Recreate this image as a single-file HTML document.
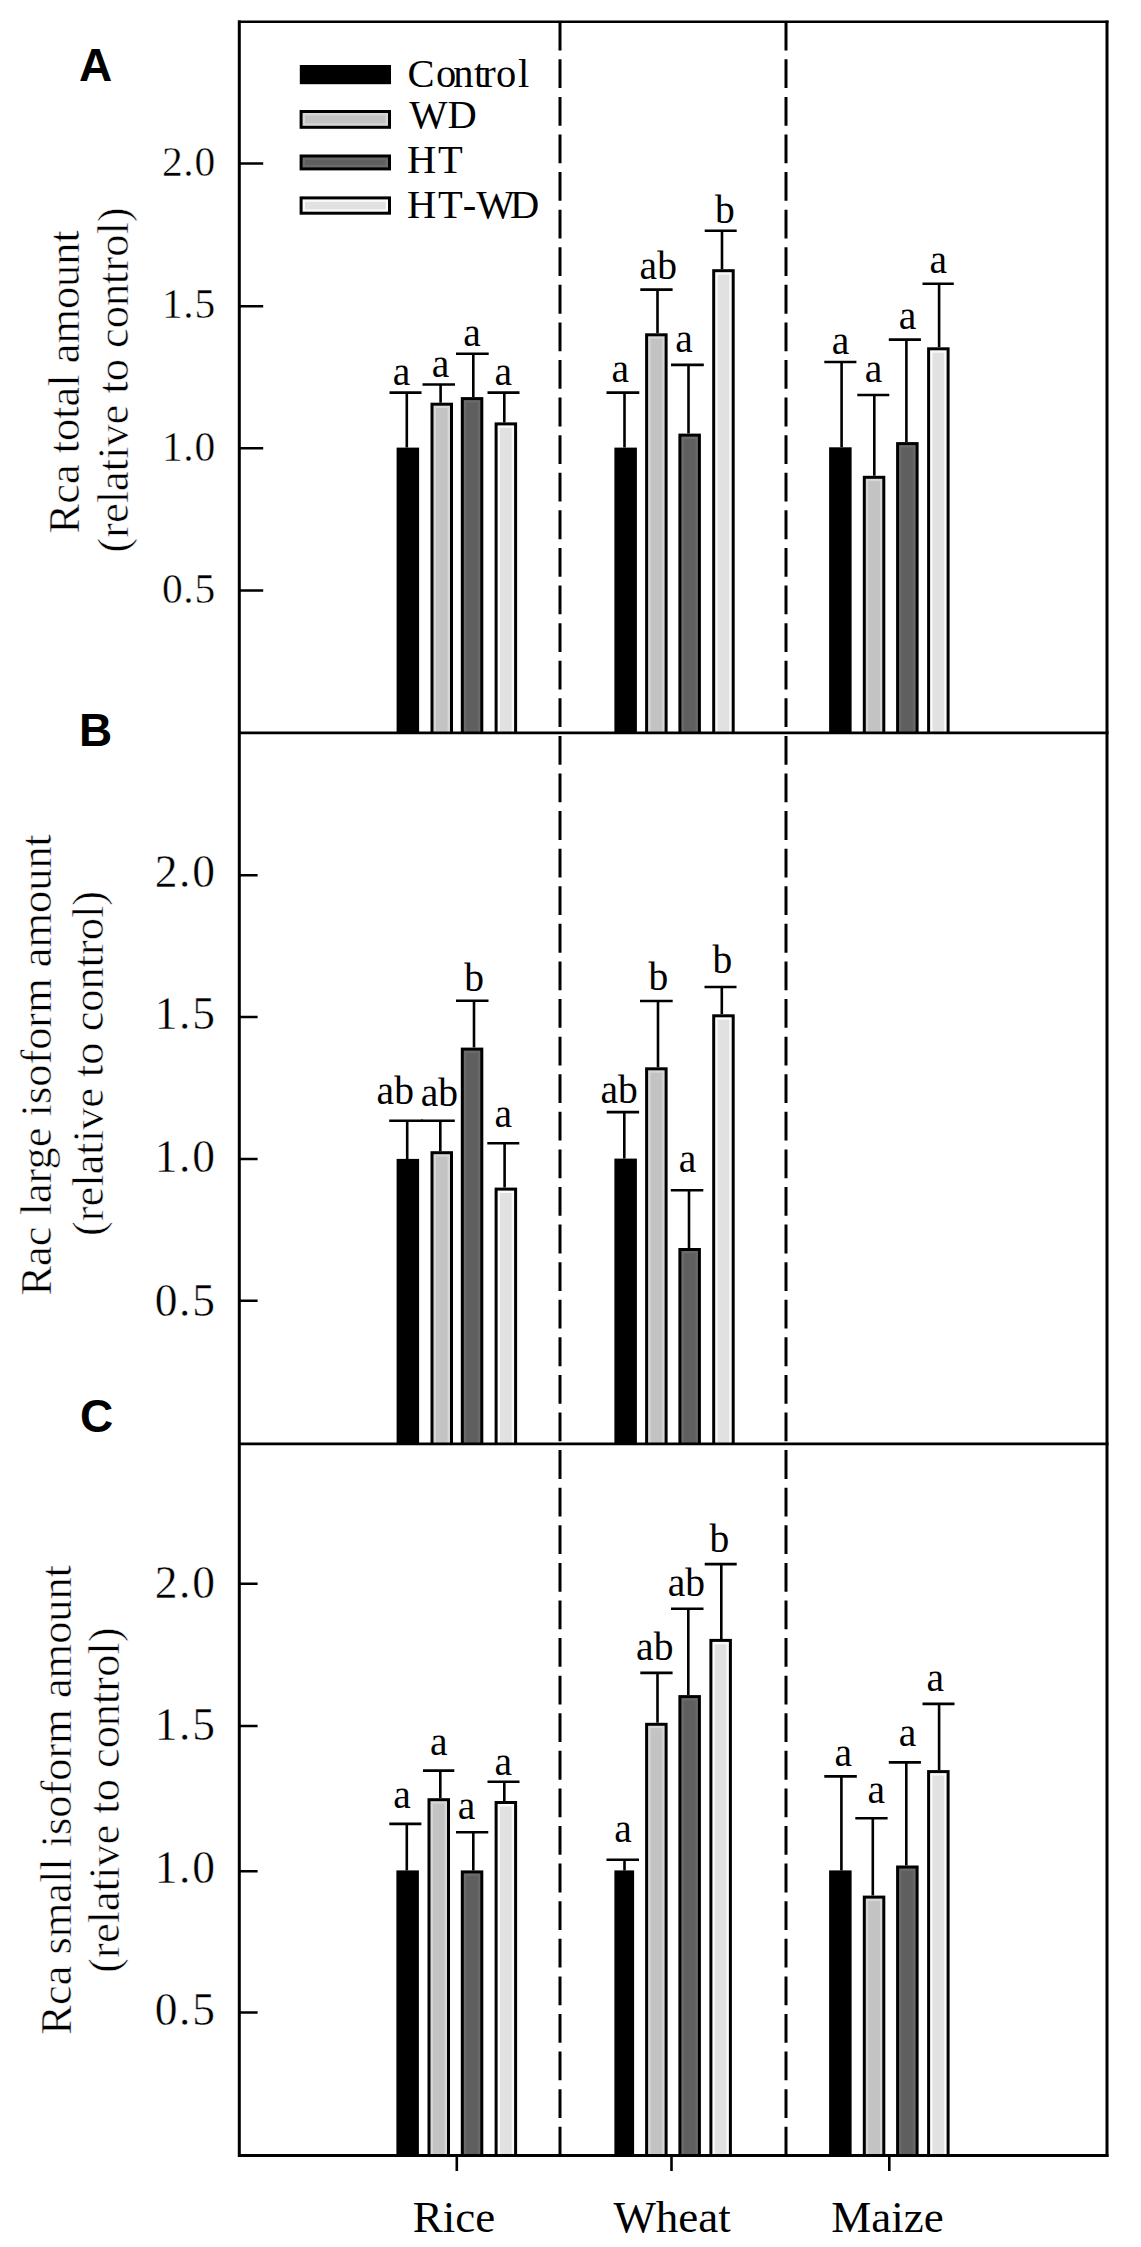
<!DOCTYPE html>
<html><head><meta charset="utf-8"><title>Rca amounts</title><style>
html,body{margin:0;padding:0;background:#fff;width:1141px;height:2247px;overflow:hidden}
svg{display:block}
.s{font-family:"Liberation Serif",serif;fill:#000}
.p{font-family:"Liberation Sans",sans-serif;font-weight:bold;fill:#000}
</style></head><body>
<svg width="1141" height="2247" viewBox="0 0 1141 2247">
<rect x="0" y="0" width="1141" height="2247" fill="#fff"/>
<g>
<rect x="396.6" y="447.6" width="22.5" height="285.4" fill="#000"/>
<rect x="430.5" y="402.7" width="22.5" height="330.3" fill="#000"/>
<rect x="433.5" y="405.7" width="16.5" height="327.3" fill="#d6d6d6"/>
<rect x="435.9" y="408.1" width="11.7" height="324.9" fill="#c3c3c3"/>
<rect x="460.8" y="397.1" width="22.5" height="335.9" fill="#000"/>
<rect x="463.8" y="400.1" width="16.5" height="332.9" fill="#6b6b6b"/>
<rect x="466.2" y="402.5" width="11.7" height="330.5" fill="#5f5f5f"/>
<rect x="494.6" y="422.4" width="22.5" height="310.6" fill="#000"/>
<rect x="497.6" y="425.4" width="16.5" height="307.6" fill="#fafafa"/>
<rect x="500" y="427.8" width="11.7" height="305.2" fill="#e1e1e1"/>
<rect x="614.4" y="447.6" width="22.5" height="285.4" fill="#000"/>
<rect x="645.1" y="333.3" width="22.5" height="399.7" fill="#000"/>
<rect x="648.1" y="336.3" width="16.5" height="396.7" fill="#d6d6d6"/>
<rect x="650.5" y="338.7" width="11.7" height="394.3" fill="#c3c3c3"/>
<rect x="678.4" y="433.6" width="22.5" height="299.4" fill="#000"/>
<rect x="681.4" y="436.6" width="16.5" height="296.4" fill="#6b6b6b"/>
<rect x="683.8" y="439" width="11.7" height="294" fill="#5f5f5f"/>
<rect x="712.2" y="269.2" width="22.5" height="463.8" fill="#000"/>
<rect x="715.2" y="272.2" width="16.5" height="460.8" fill="#fafafa"/>
<rect x="717.6" y="274.6" width="11.7" height="458.4" fill="#e1e1e1"/>
<rect x="829.1" y="447.3" width="22.5" height="285.7" fill="#000"/>
<rect x="862.8" y="475.8" width="22.5" height="257.2" fill="#000"/>
<rect x="865.8" y="478.8" width="16.5" height="254.2" fill="#d6d6d6"/>
<rect x="868.2" y="481.2" width="11.7" height="251.8" fill="#c3c3c3"/>
<rect x="896.1" y="442.1" width="22.5" height="290.9" fill="#000"/>
<rect x="899.1" y="445.1" width="16.5" height="287.9" fill="#6b6b6b"/>
<rect x="901.5" y="447.5" width="11.7" height="285.5" fill="#5f5f5f"/>
<rect x="927.1" y="347.3" width="22.5" height="385.7" fill="#000"/>
<rect x="930.1" y="350.3" width="16.5" height="382.7" fill="#fafafa"/>
<rect x="932.5" y="352.7" width="11.7" height="380.3" fill="#e1e1e1"/>
<rect x="396.6" y="1158.9" width="22.5" height="285.1" fill="#000"/>
<rect x="430.5" y="1151.2" width="22.5" height="292.8" fill="#000"/>
<rect x="433.5" y="1154.2" width="16.5" height="289.8" fill="#d6d6d6"/>
<rect x="435.9" y="1156.6" width="11.7" height="287.4" fill="#c3c3c3"/>
<rect x="460.8" y="1047.6" width="22.5" height="396.4" fill="#000"/>
<rect x="463.8" y="1050.6" width="16.5" height="393.4" fill="#6b6b6b"/>
<rect x="466.2" y="1053" width="11.7" height="391" fill="#5f5f5f"/>
<rect x="494.6" y="1187.6" width="22.5" height="256.4" fill="#000"/>
<rect x="497.6" y="1190.6" width="16.5" height="253.4" fill="#fafafa"/>
<rect x="500" y="1193" width="11.7" height="251" fill="#e1e1e1"/>
<rect x="614.4" y="1158.6" width="22.5" height="285.4" fill="#000"/>
<rect x="645.1" y="1067.3" width="22.5" height="376.7" fill="#000"/>
<rect x="648.1" y="1070.3" width="16.5" height="373.7" fill="#d6d6d6"/>
<rect x="650.5" y="1072.7" width="11.7" height="371.3" fill="#c3c3c3"/>
<rect x="678.4" y="1248" width="22.5" height="196" fill="#000"/>
<rect x="681.4" y="1251" width="16.5" height="193" fill="#6b6b6b"/>
<rect x="683.8" y="1253.4" width="11.7" height="190.6" fill="#5f5f5f"/>
<rect x="712.2" y="1014.3" width="22.5" height="429.7" fill="#000"/>
<rect x="715.2" y="1017.3" width="16.5" height="426.7" fill="#fafafa"/>
<rect x="717.6" y="1019.7" width="11.7" height="424.3" fill="#e1e1e1"/>
<rect x="396.4" y="1870.4" width="22.5" height="285.1" fill="#000"/>
<rect x="427.5" y="1798.2" width="22.5" height="357.3" fill="#000"/>
<rect x="430.5" y="1801.2" width="16.5" height="354.3" fill="#d6d6d6"/>
<rect x="432.9" y="1803.6" width="11.7" height="351.9" fill="#c3c3c3"/>
<rect x="460.8" y="1870.4" width="22.5" height="285.1" fill="#000"/>
<rect x="463.8" y="1873.4" width="16.5" height="282.1" fill="#6b6b6b"/>
<rect x="466.2" y="1875.8" width="11.7" height="279.7" fill="#5f5f5f"/>
<rect x="494.6" y="1801" width="22.5" height="354.5" fill="#000"/>
<rect x="497.6" y="1804" width="16.5" height="351.5" fill="#fafafa"/>
<rect x="500" y="1806.4" width="11.7" height="349.1" fill="#e1e1e1"/>
<rect x="614.4" y="1870.4" width="19.7" height="285.1" fill="#000"/>
<rect x="645.1" y="1722.8" width="22.5" height="432.7" fill="#000"/>
<rect x="648.1" y="1725.8" width="16.5" height="429.7" fill="#d6d6d6"/>
<rect x="650.5" y="1728.2" width="11.7" height="427.3" fill="#c3c3c3"/>
<rect x="678.4" y="1695.1" width="22.5" height="460.4" fill="#000"/>
<rect x="681.4" y="1698.1" width="16.5" height="457.4" fill="#6b6b6b"/>
<rect x="683.8" y="1700.5" width="11.7" height="455" fill="#5f5f5f"/>
<rect x="709.4" y="1638.9" width="22.5" height="516.6" fill="#000"/>
<rect x="712.4" y="1641.9" width="16.5" height="513.6" fill="#fafafa"/>
<rect x="714.8" y="1644.3" width="11.7" height="511.2" fill="#e1e1e1"/>
<rect x="829.1" y="1870.4" width="22.5" height="285.1" fill="#000"/>
<rect x="862.8" y="1895.6" width="22.5" height="259.9" fill="#000"/>
<rect x="865.8" y="1898.6" width="16.5" height="256.9" fill="#d6d6d6"/>
<rect x="868.2" y="1901" width="11.7" height="254.5" fill="#c3c3c3"/>
<rect x="896.1" y="1865.5" width="22.5" height="290" fill="#000"/>
<rect x="899.1" y="1868.5" width="16.5" height="287" fill="#6b6b6b"/>
<rect x="901.5" y="1870.9" width="11.7" height="284.6" fill="#5f5f5f"/>
<rect x="927.1" y="1770.1" width="22.5" height="385.4" fill="#000"/>
<rect x="930.1" y="1773.1" width="16.5" height="382.4" fill="#fafafa"/>
<rect x="932.5" y="1775.5" width="11.7" height="380" fill="#e1e1e1"/>
</g>
<g stroke="#000" stroke-width="2.6" fill="none">
<path d="M406.8 447.6V392.6M389.5 392.6H421.5"/>
<path d="M440.6 402.7V384.5M422.5 384.5H455"/>
<path d="M473.3 397.1V353.7M456 353.7H488.7"/>
<path d="M504.3 422.4V392.6M487.5 392.6H519.5"/>
<path d="M624.5 447.6V392.6M606.5 392.6H639.3"/>
<path d="M657.5 333.3V289.6M640.3 289.6H672.6"/>
<path d="M688.5 433.6V364.9M671 364.9H703.8"/>
<path d="M722 269.2V230.7M704.7 230.7H736.7"/>
<path d="M841.6 447.3V362M824.3 362H856.4"/>
<path d="M874.3 475.8V395M857.3 395H889.3"/>
<path d="M906.4 442.1V339.6M888.8 339.6H920.9"/>
<path d="M939.1 347.3V283.8M922.5 283.8H953.8"/>
<path d="M407.2 1158.9V1120.8M389.2 1120.8H423"/>
<path d="M440.3 1151.2V1120.8M421 1120.8H454.8"/>
<path d="M474 1047.6V1000.7M456 1000.7H488.5"/>
<path d="M504.6 1187.6V1143.2M487.3 1143.2H519.3"/>
<path d="M624.3 1158.6V1112.1M606.7 1112.1H639.1"/>
<path d="M658 1067.3V1001M640 1001H672.7"/>
<path d="M689 1248V1190.3M670.8 1190.3H703.3"/>
<path d="M721.8 1014.3V987M704.5 987H736.5"/>
<path d="M406.8 1870.4V1823.9M389.3 1823.9H421.4"/>
<path d="M440.3 1798.2V1770.6M423 1770.6H454.3"/>
<path d="M473.3 1870.4V1832.3M456 1832.3H488.3"/>
<path d="M504.3 1801V1781.8M487.5 1781.8H519.5"/>
<path d="M624.5 1870.4V1859.8M606.5 1859.8H639"/>
<path d="M657.5 1722.8V1672.9M640.3 1672.9H672.6"/>
<path d="M688.3 1695.1V1608.7M671 1608.7H703.5"/>
<path d="M721.3 1638.9V1564.1M704.7 1564.1H736.7"/>
<path d="M841.4 1870.4V1776.4M824.3 1776.4H856.8"/>
<path d="M872.8 1895.6V1818.2M855.3 1818.2H887.6"/>
<path d="M906.3 1865.5V1762.4M888.8 1762.4H920.9"/>
<path d="M939.1 1770.1V1703.9M922.5 1703.9H954.5"/>
</g>
<g class="s" font-size="39.5" text-anchor="middle">
<text x="401.59" y="384.81">a</text>
<text x="440.59" y="377.11">a</text>
<text x="472.14" y="346.21">a</text>
<text x="503.34" y="384.81">a</text>
<text x="620.24" y="382">a</text>
<text x="658.26" y="279.31">ab</text>
<text x="684.09" y="351.61">a</text>
<text x="724.85" y="223.3">b</text>
<text x="840.54" y="353.91">a</text>
<text x="873.49" y="381.91">a</text>
<text x="907.49" y="329.31">a</text>
<text x="938.34" y="273.31">a</text>
<text x="395.26" y="1104.01">ab</text>
<text x="439.46" y="1105.61">ab</text>
<text x="474.2" y="990.5">b</text>
<text x="503.19" y="1126.9">a</text>
<text x="619.16" y="1102.61">ab</text>
<text x="658.4" y="990.11">b</text>
<text x="687.44" y="1172.01">a</text>
<text x="722.25" y="973.31">b</text>
<text x="402.04" y="1807.61">a</text>
<text x="438.69" y="1755.31">a</text>
<text x="466.54" y="1818.81">a</text>
<text x="503.34" y="1775.01">a</text>
<text x="623.09" y="1841.61">a</text>
<text x="654.76" y="1660.2">ab</text>
<text x="686.31" y="1596.4">ab</text>
<text x="719.45" y="1551.81">b</text>
<text x="843.34" y="1765.51">a</text>
<text x="876.29" y="1802.61">a</text>
<text x="907.59" y="1745.9">a</text>
<text x="935.39" y="1690.81">a</text>
</g>
<g stroke="#000" fill="none">
<path stroke-width="2.6" d="M238 21.8H1108.5"/>
<path stroke-width="3" d="M239.3 20.5V2157M1107 20.5V2157"/>
<path stroke-width="2.8" d="M238 732.8H1108.5M238 1443.8H1108.5M238 2155.5H1108.5"/>
<path stroke-width="3" stroke-dasharray="28.8 8.79" d="M560 21.7V2155.5M786 21.7V2155.5"/>
<path stroke-width="2.5" d="M240 163.5H263.2M240 306.3H263.2M240 448.3H263.2M240 590.6H263.2M240 875.2H257.6M240 1017H257.6M240 1158.9H257.6M240 1300.7H257.6M240 1583.8H257.6M240 1725.9H257.6M240 1871.2H257.6M240 2012.5H257.6"/>
<path stroke-width="2.6" d="M456.8 2156V2171M671.5 2156V2171M889.3 2156V2171"/>
</g>
<g class="s" font-size="41.5" letter-spacing="0.7" text-anchor="end" stroke="#fff" stroke-width="0.4">
<text x="215.88" y="175.92">2.0</text>
<text x="215.88" y="318.02">1.5</text>
<text x="215.88" y="460.52">1.0</text>
<text x="215.88" y="602.52">0.5</text>
</g>
<g class="s" font-size="45.5" letter-spacing="1.7" text-anchor="end" stroke="#fff" stroke-width="0.4">
<text x="216.63" y="887.46">2.0</text>
<text x="216.63" y="1029.26">1.5</text>
<text x="216.63" y="1171.56">1.0</text>
<text x="216.63" y="1316.46">0.5</text>
</g>
<g class="s" font-size="45.5" letter-spacing="1.7" text-anchor="end" stroke="#fff" stroke-width="0.4">
<text x="216.63" y="1598.36">2.0</text>
<text x="216.63" y="1740.16">1.5</text>
<text x="216.63" y="1882.96">1.0</text>
<text x="216.63" y="2025.16">0.5</text>
</g>
<g class="s" font-size="44.4" text-anchor="middle" stroke="#fff" stroke-width="0.55">
<text transform="translate(79 381.8) rotate(-90)">Rca total amount</text>
<text transform="translate(127.7 380) rotate(-90)">(relative to control)</text>
<text transform="translate(50.7 1064.8) rotate(-90)">Rac large isoform amount</text>
<text transform="translate(102.8 1063.4) rotate(-90)">(relative to control)</text>
<text transform="translate(70.7 1799.8) rotate(-90)">Rca small isoform amount</text>
<text transform="translate(119.3 1800.1) rotate(-90)">(relative to control)</text>
</g>
<g class="s" font-size="45" text-anchor="middle">
<text x="453.9" y="2232">Rice</text>
<text x="672.1" y="2232">Wheat</text>
<text x="887.5" y="2232">Maize</text>
</g>
<g class="p" font-size="46">
<text x="78.9" y="80.7">A</text>
<text x="79" y="745.7">B</text>
<text x="80.1" y="1432.3">C</text>
</g>
<g>
<rect x="299.8" y="65" width="91.2" height="19.2" fill="#000"/>
<rect x="299.6" y="110" width="91.4" height="18.8" fill="#000"/>
<rect x="302.6" y="113" width="85.4" height="12.8" fill="#d6d6d6"/>
<rect x="305" y="115.4" width="80.6" height="8" fill="#c3c3c3"/>
<rect x="299.6" y="154.5" width="91.4" height="15.9" fill="#000"/>
<rect x="302.6" y="157.5" width="85.4" height="9.9" fill="#6b6b6b"/>
<rect x="305" y="159.9" width="80.6" height="5.1" fill="#5f5f5f"/>
<rect x="299.6" y="196.4" width="91.4" height="18.3" fill="#000"/>
<rect x="302.6" y="199.4" width="85.4" height="12.3" fill="#fafafa"/>
<rect x="305" y="201.8" width="80.6" height="7.5" fill="#e1e1e1"/>
</g>
<g class="s" font-size="40.5">
<text x="407.4 436 453.3 474.1 482.3 496.1 518" y="87">Control</text>
<text x="409.2" y="127.9">WD</text>
<text x="407.1 438.1" y="173.3">HT</text>
<text x="407.1 438.1 462.7 476.2 510" y="217.5">HT-WD</text>
</g>
</svg>
</body></html>
